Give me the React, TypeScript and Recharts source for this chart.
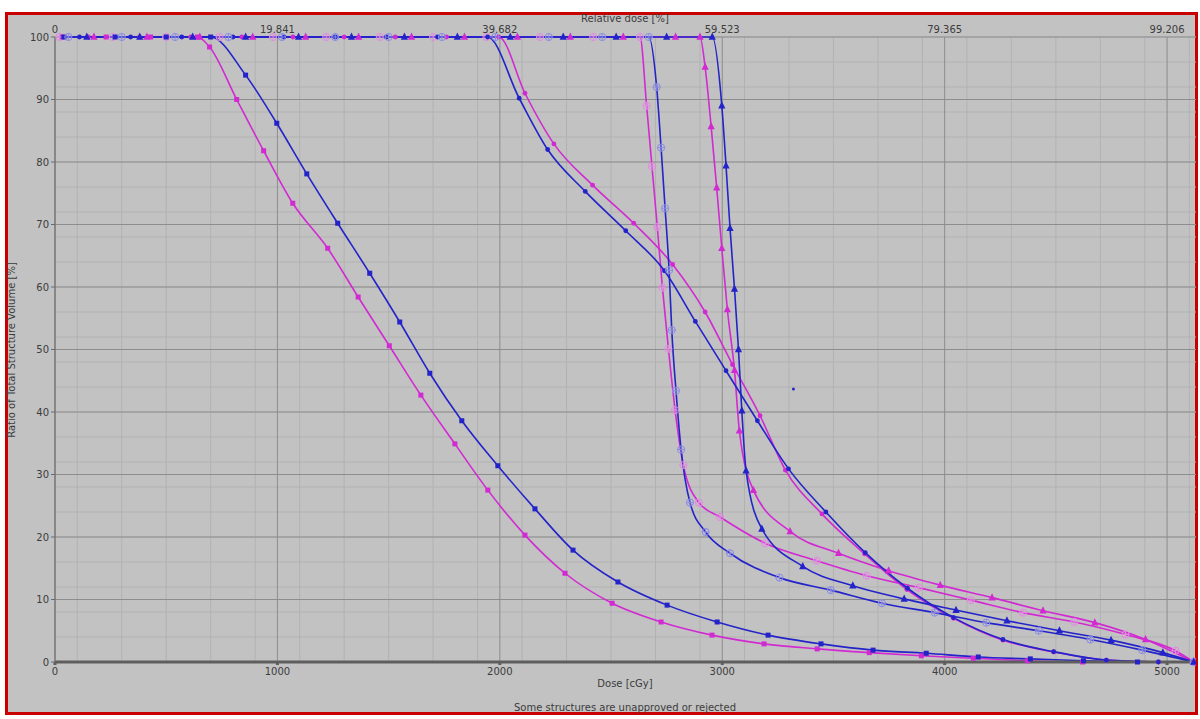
import React from 'react';
import { LineChart, Line, XAxis, YAxis, CartesianGrid } from 'recharts';

// dose [cGy], volume [%]
const blueSquare: [number, number][] = [
  [40, 100], [270, 100], [500, 100], [700, 100], [857, 93.9], [997, 86.2], [1132, 78.1],
  [1271, 70.2], [1415, 62.2], [1550, 54.4], [1685, 46.2], [1829, 38.6], [1991, 31.4],
  [2158, 24.5], [2329, 17.9], [2531, 12.8], [2752, 9.1], [2977, 6.4], [3206, 4.3],
  [3444, 2.9], [3678, 1.9], [3917, 1.4], [4151, 0.8], [4385, 0.5], [4624, 0.2], [4867, 0],
];
const magentaSquare: [number, number][] = [
  [30, 100], [230, 100], [430, 100], [640, 100], [695, 98.4], [817, 90.0], [938, 81.8],
  [1069, 73.4], [1226, 66.2], [1363, 58.4], [1503, 50.6], [1645, 42.7], [1798, 34.9],
  [1946, 27.5], [2113, 20.3], [2293, 14.2], [2505, 9.4], [2725, 6.4], [2954, 4.3],
  [3188, 2.9], [3427, 2.1], [3661, 1.5], [3895, 1.0], [4129, 0.6], [4372, 0.2], [4620, 0],
];
const blueCircle: [number, number][] = [
  [110, 100], [340, 100], [570, 100], [800, 100], [1030, 100], [1260, 100], [1490, 100],
  [1720, 100], [1945, 100], [2087, 90.2], [2215, 82.0], [2384, 75.3], [2566, 69.0],
  [2740, 62.6], [2879, 54.5], [3017, 46.6], [3158, 38.6], [3298, 30.9], [3466, 24.0],
  [3643, 17.5], [3833, 11.8], [4040, 7.1], [4262, 3.6], [4490, 1.65], [4727, 0.3], [4961, 0],
];
const magentaCircle: [number, number][] = [
  [150, 100], [380, 100], [610, 100], [840, 100], [1070, 100], [1300, 100], [1530, 100],
  [1760, 100], [1995, 100], [2113, 91.0], [2243, 82.9], [2417, 76.3], [2602, 70.2],
  [2777, 63.6], [2923, 56.0], [3046, 47.6], [3170, 39.4], [3284, 30.7], [3448, 23.7],
  [3640, 17.3], [3830, 11.6], [4040, 7.0], [4262, 3.5], [4490, 1.6], [4727, 0.3], [4961, 0],
];
const blueHollow: [number, number][] = [
  [60, 100], [300, 100], [540, 100], [780, 100], [1020, 100], [1260, 100], [1500, 100],
  [1740, 100], [1980, 100], [2220, 100], [2460, 100], [2670, 100], [2705, 92.0],
  [2725, 82.3], [2743, 72.6], [2761, 62.7], [2773, 53.1], [2792, 43.4], [2815, 34.0],
  [2855, 25.5], [2925, 20.8], [3035, 17.4], [3257, 13.5], [3488, 11.5], [3718, 9.4],
  [3955, 7.9], [4187, 6.3], [4423, 5.0], [4655, 3.6], [4888, 1.9], [5120, 0],
];
const magentaHollow: [number, number][] = [
  [20, 100], [260, 100], [500, 100], [740, 100], [980, 100], [1220, 100], [1460, 100],
  [1700, 100], [1940, 100], [2180, 100], [2420, 100], [2630, 100], [2660, 89.0],
  [2684, 79.3], [2708, 69.6], [2731, 59.9], [2758, 50.1], [2788, 40.3], [2825, 31.5],
  [2895, 25.5], [2990, 23.2], [3193, 19.0], [3425, 16.2], [3650, 13.8], [3883, 11.9],
  [4118, 9.9], [4352, 7.9], [4583, 6.4], [4813, 4.4], [5038, 1.8], [5120, 0],
];
const blueTriangle: [number, number][] = [
  [143, 100], [381, 100], [619, 100], [857, 100], [1095, 100], [1333, 100], [1571, 100],
  [1809, 100], [2047, 100], [2285, 100], [2523, 100], [2750, 100], [2955, 100],
  [2998, 89.0], [3017, 79.4], [3035, 69.4], [3055, 59.7], [3073, 50.0], [3088, 40.2],
  [3107, 30.6], [3178, 21.3], [3362, 15.3], [3587, 12.2], [3818, 10.1], [4051, 8.3],
  [4280, 6.6], [4516, 5.0], [4748, 3.5], [4981, 1.5], [5120, 0],
];
const magentaTriangle: [number, number][] = [
  [175, 100], [413, 100], [651, 100], [889, 100], [1127, 100], [1365, 100], [1603, 100],
  [1841, 100], [2079, 100], [2317, 100], [2555, 100], [2790, 100], [2900, 100],
  [2923, 95.2], [2950, 85.7], [2975, 75.9], [2998, 66.2], [3023, 56.4], [3055, 46.7],
  [3077, 37.0], [3140, 27.5], [3305, 20.9], [3523, 17.4], [3748, 14.6], [3980, 12.3],
  [4213, 10.3], [4442, 8.2], [4675, 6.3], [4903, 3.6], [5120, 0],
];
const strayPoint: [number, number][] = [[3320, 43.7]];

const doseTicks = [0, 1000, 2000, 3000, 4000, 5000];
const relTicks = [0, 19.841, 39.682, 59.523, 79.365, 99.206];
const relTickLabels = ['0', '19.841', '39.682', '59.523', '79.365', '99.206'];
const volTicks = [0, 10, 20, 30, 40, 50, 60, 70, 80, 90, 100];

const DOSE_MAX = 5130;
const REL_PER_CGY = 100 / 5040;

const BLUE = '#2323c9';
const MAGENTA = '#d22ad2';
const PALE_BLUE = '#8b8be6';
const PALE_MAGENTA = '#e48ae4';
const FONT = '"DejaVu Sans", sans-serif';

const minorX = Array.from({ length: 52 }, (_, i) => i * 100);
const minorY = Array.from({ length: 101 }, (_, i) => i);

type Shape = 'square' | 'circle' | 'triangle' | 'hollow' | 'dot';

const toRows = (pts: [number, number][]) => pts.map(([d, v]) => ({ d, v }));
// invisible carrier so the top (relative dose) axis gets rendered
const relRows = relTicks.map((r) => ({ r, v: 100 }));

const makeDot = (shape: Shape, color: string, name: string) => (p: any) => {
  const { cx, cy, index } = p;
  const key = `${name}-${index}`;
  if (cx == null || cy == null) return <g key={key} />;
  if (shape === 'square') return <rect key={key} x={cx - 2.5} y={cy - 2.5} width={5} height={5} fill={color} />;
  if (shape === 'circle') return <circle key={key} cx={cx} cy={cy} r={2.4} fill={color} />;
  if (shape === 'dot') return <circle key={key} cx={cx} cy={cy} r={1.5} fill={color} />;
  if (shape === 'triangle')
    return <polygon key={key} points={`${cx},${cy - 4.5} ${cx - 3.6},${cy + 2.8} ${cx + 3.6},${cy + 2.8}`} fill={color} />;
  return (
    <g key={key} stroke={color} strokeWidth={1} fill="none">
      <circle cx={cx} cy={cy} r={3.6} />
      <line x1={cx - 3.6} y1={cy} x2={cx + 3.6} y2={cy} />
      <line x1={cx} y1={cy - 3.6} x2={cx} y2={cy + 3.6} />
    </g>
  );
};

const series: { name: string; pts: [number, number][]; color: string; shape: Shape; marker: string }[] = [
  { name: 'mSq', pts: magentaSquare, color: MAGENTA, shape: 'square', marker: MAGENTA },
  { name: 'mCi', pts: magentaCircle, color: MAGENTA, shape: 'circle', marker: MAGENTA },
  { name: 'mHo', pts: magentaHollow, color: MAGENTA, shape: 'hollow', marker: PALE_MAGENTA },
  { name: 'mTr', pts: magentaTriangle, color: MAGENTA, shape: 'triangle', marker: MAGENTA },
  { name: 'bSq', pts: blueSquare, color: BLUE, shape: 'square', marker: BLUE },
  { name: 'bCi', pts: blueCircle, color: BLUE, shape: 'circle', marker: BLUE },
  { name: 'bHo', pts: blueHollow, color: BLUE, shape: 'hollow', marker: PALE_BLUE },
  { name: 'bTr', pts: blueTriangle, color: BLUE, shape: 'triangle', marker: BLUE },
];

const textStyle: React.CSSProperties = {
  position: 'absolute', fontFamily: FONT, fontSize: 10, color: '#3c3c3c', whiteSpace: 'nowrap',
  transform: 'translate(-50%, -50%)',
};

export default function App() {
  return (
    <div style={{ position: 'absolute', left: 0, top: 0, width: 1200, height: 719, background: '#fff', overflow: 'hidden' }}>
      <div style={{ position: 'absolute', left: 5, top: 12, width: 1187, height: 697, border: '3px solid #c80000', background: '#c2c2c2' }} />
      <div style={{ position: 'absolute', left: 0, top: 0 }}>
        <LineChart width={1200} height={719} margin={{ top: 13, right: 4, bottom: 37, left: 5 }}>
          <CartesianGrid xAxisId="dose" verticalValues={minorX} horizontalValues={minorY} stroke="#b2b2b2" strokeWidth={1} />
          <CartesianGrid xAxisId="dose" verticalValues={doseTicks} horizontalValues={volTicks} stroke="#8d8d8d" strokeWidth={1} />
          <XAxis
            xAxisId="dose" dataKey="d" type="number" domain={[0, DOSE_MAX]} ticks={doseTicks} allowDataOverflow
            height={20} tickSize={3} tickMargin={3} stroke="#5e5e5e" strokeWidth={3}
            tick={{ fill: '#3c3c3c', fontSize: 10, fontFamily: FONT }}
          />
          <XAxis
            xAxisId="rel" dataKey="r" orientation="top" type="number" domain={[0, DOSE_MAX * REL_PER_CGY]} ticks={relTicks} allowDataOverflow
            height={24} tickLine={false} axisLine={false} tickSize={0} tickMargin={4}
            tickFormatter={(v: number) => relTickLabels[relTicks.indexOf(v)] ?? String(v)}
            tick={{ fill: '#3c3c3c', fontSize: 10, fontFamily: FONT }}
          />
          <YAxis
            type="number" domain={[0, 100]} ticks={volTicks} width={50} tickSize={4} tickMargin={2}
            stroke="#6a6a6a" tick={{ fill: '#3c3c3c', fontSize: 10, fontFamily: FONT }}
          />
          <Line
            xAxisId="rel" data={relRows} dataKey="v" stroke="none" dot={false}
            activeDot={false} isAnimationActive={false}
          />
          {series.map((s) => (
            <Line
              key={s.name} xAxisId="dose" data={toRows(s.pts)} dataKey="v" type="monotone"
              stroke={s.color} strokeWidth={1.6} dot={makeDot(s.shape, s.marker, s.name)}
              activeDot={false} isAnimationActive={false}
            />
          ))}
          <Line
            xAxisId="dose" data={toRows(strayPoint)} dataKey="v" stroke="none"
            dot={makeDot('dot', BLUE, 'stray')} activeDot={false} isAnimationActive={false}
          />
        </LineChart>
      </div>
      <div style={{ ...textStyle, left: 625, top: 18 }}>Relative dose [%]</div>
      <div style={{ ...textStyle, left: 625, top: 683 }}>Dose [cGy]</div>
      <div style={{ ...textStyle, left: 625, top: 707 }}>Some structures are unapproved or rejected</div>
      <div style={{ ...textStyle, left: 11, top: 350, transform: 'translate(-50%, -50%) rotate(-90deg)' }}>
        Ratio of Total Structure Volume [%]
      </div>
    </div>
  );
}
